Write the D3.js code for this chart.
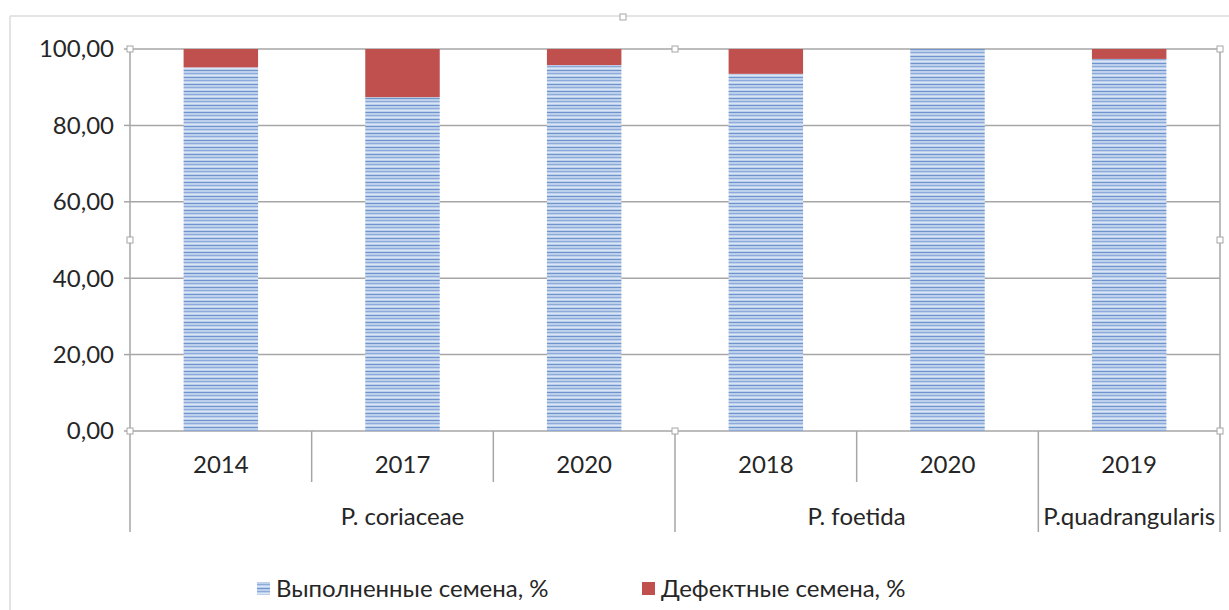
<!DOCTYPE html>
<html><head><meta charset="utf-8">
<script src="https://cdn.jsdelivr.net/npm/d3@7"></script>
<style>body{margin:0;background:#fff}svg{display:block}text{font-family:Lato,"Open Sans",sans-serif;fill:#262626}</style>
</head><body>
<svg id="c" width="1229" height="610"></svg>
<script>
const years = ["2014","2017","2020","2018","2020","2019"];
const species = ["P. coriaceae","P. coriaceae","P. coriaceae","P. foetida","P. foetida","P.quadrangularis"];
const filled = [95.2, 87.4, 95.8, 93.5, 100.0, 97.4];
const defective = [4.8, 12.6, 4.2, 6.5, 0.0, 2.6];
const yTicks = [0,20,40,60,80,100];
const seriesNames = ["Выполненные семена, %","Дефектные семена, %"];

const FS = 24;
const svg = d3.select("#c");
const m = {l:130, r:1220, t:49, b:431};
const x = d3.scaleBand().domain(d3.range(years.length)).range([m.l, m.r]).paddingInner(0.59).paddingOuter(0.295);
const y = d3.scaleLinear().domain([0,100]).range([m.b, m.t]);
const xs = d3.scaleBand().domain(d3.range(years.length)).range([m.l, m.r]);

const defs = svg.append("defs");
const pat = defs.append("pattern").attr("id","stripe").attr("patternUnits","userSpaceOnUse").attr("width",8).attr("height",7);
pat.append("rect").attr("width",8).attr("height",7).attr("fill","#bcd0ec");
pat.append("rect").attr("y",0).attr("width",8).attr("height",1).attr("fill","#6f93cc");
pat.append("rect").attr("y",3).attr("width",8).attr("height",1).attr("fill","#8eaadb");
pat.append("rect").attr("y",5).attr("width",8).attr("height",1).attr("fill","#dbe6f5");

// outer chart border (faint)
svg.append("path").attr("d","M10,16 H1229 M10,16 V610").attr("stroke","#e4e4e4").attr("stroke-width",2).attr("fill","none");

// gridlines
svg.append("g").selectAll("line").data(yTicks).join("line")
  .attr("x1",m.l).attr("x2",m.r).attr("y1",d=>y(d)).attr("y2",d=>y(d))
  .attr("stroke","#a6a6a6").attr("stroke-width",1.5);

// y axis labels
svg.append("g").selectAll("text").data(yTicks).join("text")
  .attr("x",114).attr("y",d=>y(d)).attr("dy","0.35em").attr("text-anchor","end")
  .attr("font-size",FS).text(d=>d3.format(".2f")(d).replace(".",","));
svg.append("g").selectAll("line").data(yTicks).join("line")
  .attr("x1",124).attr("x2",m.l).attr("y1",d=>y(d)).attr("y2",d=>y(d)).attr("stroke","#a6a6a6").attr("stroke-width",1.5);

// bars
const g = svg.append("g");
g.selectAll("rect.f").data(filled).join("rect").attr("class","f")
  .attr("x",(d,i)=>x(i)).attr("width",x.bandwidth())
  .attr("y",d=>y(d)).attr("height",d=>y(0)-y(d)).attr("fill","url(#stripe)");
g.selectAll("rect.d").data(defective).join("rect").attr("class","d")
  .attr("x",(d,i)=>x(i)).attr("width",x.bandwidth())
  .attr("y",(d,i)=>y(filled[i]+d)).attr("height",d=>y(0)-y(d)).attr("fill","#c0504d");

// axes lines
svg.append("line").attr("x1",m.l).attr("x2",m.l).attr("y1",m.t).attr("y2",m.b).attr("stroke","#a6a6a6").attr("stroke-width",1.5);
svg.append("line").attr("x1",m.r).attr("x2",m.r).attr("y1",m.t).attr("y2",m.b).attr("stroke","#a6a6a6").attr("stroke-width",1.5);

// category separators
const groupStarts = [];
species.forEach((s,i)=>{ if(i===0 || species[i-1]!==s) groupStarts.push(i); });
const bounds = d3.range(years.length+1);
bounds.forEach(i=>{
  const xx = i<years.length ? xs(i) : m.r;
  const isGroup = i===years.length || groupStarts.includes(i);
  svg.append("line").attr("x1",xx).attr("x2",xx).attr("y1",m.b).attr("y2",isGroup?532:482)
    .attr("stroke","#a6a6a6").attr("stroke-width",1.5);
});
svg.append("g").selectAll("text").data(years).join("text")
  .attr("x",(d,i)=>xs(i)+xs.bandwidth()/2).attr("y",465).attr("dy","0.35em")
  .attr("text-anchor","middle").attr("font-size",FS).text(d=>d);
groupStarts.forEach((s,k)=>{
  const e = k+1<groupStarts.length ? groupStarts[k+1] : years.length;
  const x0 = xs(s), x1 = e<years.length ? xs(e) : m.r;
  svg.append("text").attr("x",(x0+x1)/2).attr("y",517).attr("dy","0.35em")
    .attr("text-anchor","middle").attr("font-size",FS).text(species[s]);
});

// handles
const handles = [[m.l,m.t],[(m.l+m.r)/2,m.t],[m.r,m.t],[m.l,(m.t+m.b)/2],[m.r,(m.t+m.b)/2],[m.l,m.b],[(m.l+m.r)/2,m.b],[m.r,m.b],[623,17]];
svg.append("g").selectAll("rect").data(handles).join("rect")
  .attr("x",d=>d[0]-3).attr("y",d=>d[1]-3).attr("width",6).attr("height",6)
  .attr("fill","#fff").attr("stroke","#a6a6a6").attr("stroke-width",1);

// legend
const lg = svg.append("g");
const lx = [257, 642];
seriesNames.forEach((n,i)=>{
  lg.append("rect").attr("x",lx[i]).attr("y",582).attr("width",13).attr("height",13)
    .attr("fill", i===0 ? "url(#stripe)" : "#c0504d");
  lg.append("text").attr("x",lx[i]+19).attr("y",589).attr("dy","0.35em").attr("font-size",FS).attr("textLength",null).text(n);
});
</script>
</body></html>
